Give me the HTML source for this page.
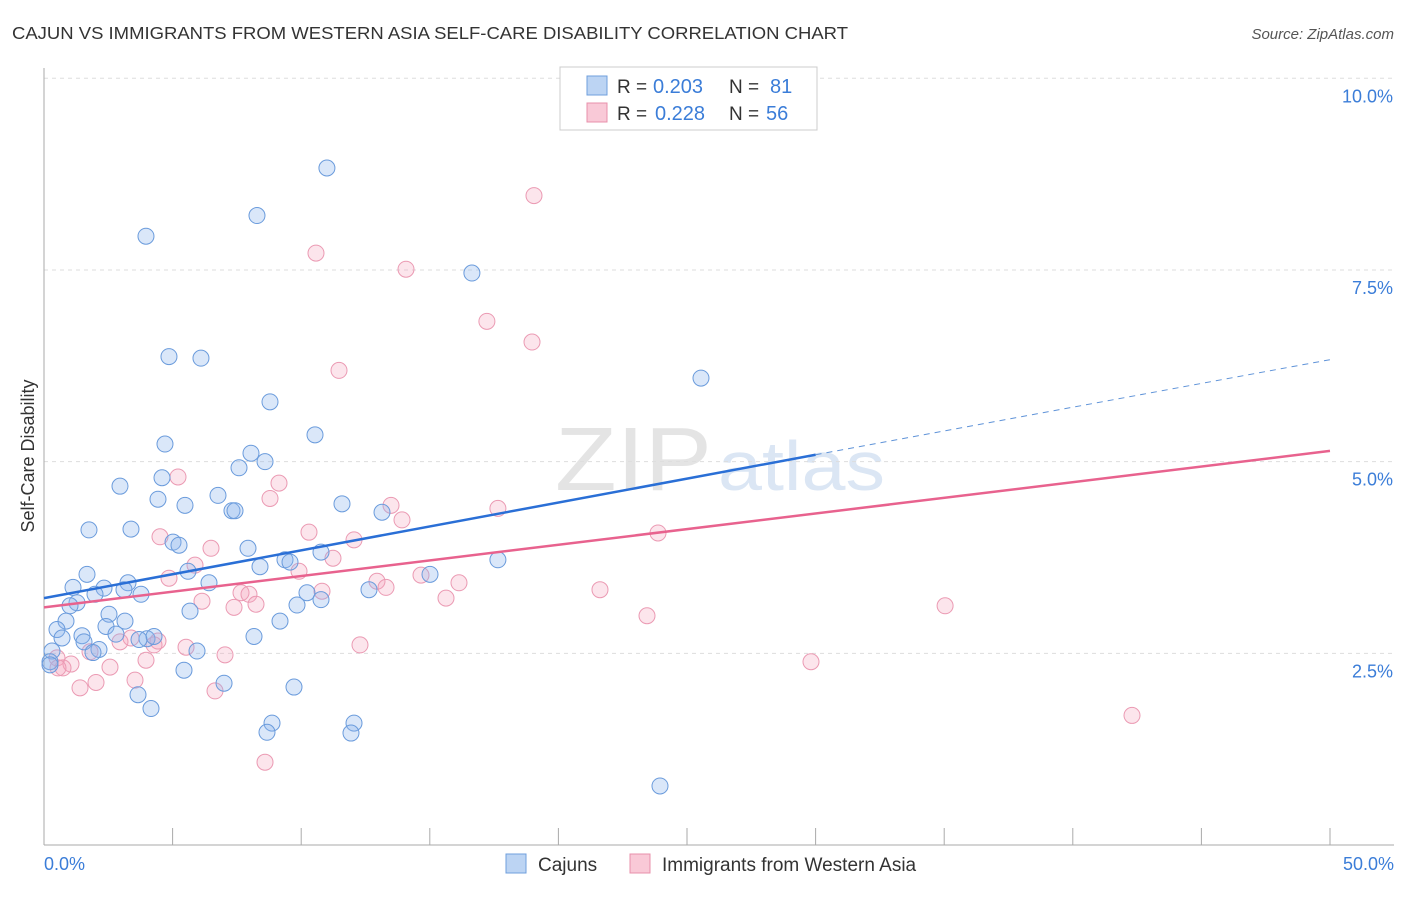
<!DOCTYPE html>
<html><head><meta charset="utf-8"><style>
body{margin:0;background:#fff;font-family:"Liberation Sans",sans-serif;}
svg text{font-family:"Liberation Sans",sans-serif;}
</style></head><body>
<svg id="chart" width="1406" height="892" xmlns="http://www.w3.org/2000/svg">
<text x="12" y="39" font-size="17.5" fill="#333" textLength="836" lengthAdjust="spacingAndGlyphs">CAJUN VS IMMIGRANTS FROM WESTERN ASIA SELF-CARE DISABILITY CORRELATION CHART</text>
<text x="1394" y="39" font-size="15" fill="#555" font-style="italic" text-anchor="end">Source: ZipAtlas.com</text>
<text x="712" y="490" font-size="90" fill="#e4e4e4" text-anchor="end" font-family="Liberation Serif" textLength="157" lengthAdjust="spacingAndGlyphs">ZIP</text>
<text x="718" y="490" font-size="70" fill="#dbe6f4" textLength="167" lengthAdjust="spacingAndGlyphs">atlas</text>
<g id="grid"></g>
<line x1="44" y1="68" x2="44" y2="845" stroke="#aaa"/>
<line x1="44" y1="845" x2="1394" y2="845" stroke="#aaa"/>
<text x="34" y="456" font-size="18" fill="#333" transform="rotate(-90 34 456)" text-anchor="middle">Self-Care Disability</text>
<text x="44" y="870" font-size="18" fill="#3b7dd8">0.0%</text>
<text x="1394" y="870" font-size="18" fill="#3b7dd8" text-anchor="end">50.0%</text>
<g id="pts"></g>
<g id="lines"></g>
<g>
<rect x="560" y="67" width="257" height="63" fill="#fff" stroke="#ccc"/>
<rect x="587" y="76" width="20" height="19" fill="#bcd4f3" stroke="#6f9fdd"/>
<rect x="587" y="103" width="20" height="19" fill="#f9c9d7" stroke="#e890ab"/>
<text x="617" y="93" font-size="19" fill="#333">R =</text>
<text x="653" y="93" font-size="20" fill="#3b7dd8">0.203</text>
<text x="729" y="93" font-size="19" fill="#333">N =</text>
<text x="770" y="93" font-size="20" fill="#3b7dd8">81</text>
<text x="617" y="120" font-size="19" fill="#333">R =</text>
<text x="655" y="120" font-size="20" fill="#3b7dd8">0.228</text>
<text x="729" y="120" font-size="19" fill="#333">N =</text>
<text x="766" y="120" font-size="20" fill="#3b7dd8">56</text>
</g>
<g>
<rect x="506" y="854" width="20" height="19" fill="#bcd4f3" stroke="#6f9fdd"/>
<text x="538" y="871" font-size="19" fill="#333">Cajuns</text>
<rect x="630" y="854" width="20" height="19" fill="#f9c9d7" stroke="#e890ab"/>
<text x="662" y="871" font-size="19" fill="#333">Immigrants from Western Asia</text>
</g>
</svg>
<script>
const yTicks=[2.5,5.0,7.5,10.0];
const xTicks=[0,5,10,15,20,25,30,35,40,45,50];
const cajunX=[11.0,3.965,8.281,16.637,4.859,6.103,25.544,8.787,10.537,4.704,8.048,8.593,7.582,4.588,2.955,4.432,5.482,6.765,7.309,7.426,11.586,13.142,1.749,3.382,5.016,5.249,7.932,10.770,9.370,9.565,17.648,8.398,1.672,5.599,15.008,1.128,2.333,3.266,6.415,1.983,3.110,3.771,12.636,10.225,9.837,10.770,1.283,1.011,5.677,2.527,0.855,3.149,0.505,2.410,1.477,2.799,9.176,0.700,1.555,4.005,4.277,3.694,8.165,2.138,1.905,5.949,0.311,0.233,0.233,5.443,7.000,9.720,3.655,4.160,8.865,8.670,12.053,11.936,23.950];
const cajunY=[8.83,7.94,8.21,7.46,6.37,6.35,6.09,5.78,5.35,5.23,5.11,5.00,4.92,4.79,4.68,4.51,4.43,4.56,4.36,4.36,4.45,4.34,4.11,4.12,3.95,3.91,3.87,3.82,3.72,3.69,3.72,3.63,3.53,3.57,3.53,3.36,3.35,3.42,3.42,3.27,3.33,3.27,3.33,3.29,3.13,3.20,3.16,3.12,3.05,3.01,2.92,2.92,2.81,2.85,2.73,2.75,2.92,2.70,2.65,2.69,2.72,2.68,2.72,2.55,2.51,2.53,2.53,2.39,2.35,2.28,2.11,2.06,1.96,1.78,1.59,1.47,1.59,1.46,0.77];
const immX=[19.051,10.575,14.075,17.220,18.974,11.470,5.210,8.787,9.137,13.492,17.648,13.919,10.303,4.510,12.053,6.493,23.873,11.236,5.871,9.915,4.860,14.658,16.135,12.947,13.298,21.617,7.660,7.970,6.143,10.809,15.630,7.388,8.243,35.035,23.445,3.383,4.432,4.277,5.522,12.286,2.955,7.038,1.789,3.966,29.821,0.505,1.050,0.739,2.566,3.538,2.022,1.400,6.649,42.302,8.593,0.544];
const immY=[8.47,7.72,7.51,6.83,6.56,6.19,4.80,4.52,4.72,4.43,4.39,4.24,4.08,4.02,3.98,3.87,4.07,3.74,3.65,3.57,3.48,3.52,3.42,3.44,3.36,3.33,3.29,3.27,3.18,3.31,3.22,3.10,3.14,3.12,2.99,2.70,2.66,2.61,2.58,2.61,2.65,2.48,2.52,2.41,2.39,2.44,2.36,2.31,2.32,2.15,2.12,2.05,2.01,1.69,1.08,2.31];
const cajunLine=[3.22,5.09,6.33];
const immLine=[3.10,5.14];
const ns="http://www.w3.org/2000/svg";
const X=v=>44+v/50*1286, Y=v=>845-v/10*766.7;
const grid=document.getElementById('grid'),svg=document.getElementById('chart');
yTicks.forEach(t=>{
 const l=document.createElementNS(ns,'line');
 
 
 l.setAttribute('x1',44);l.setAttribute('x2',1394);l.setAttribute('y1',Y(t));l.setAttribute('y2',Y(t));
 l.setAttribute('stroke','#ddd');l.setAttribute('stroke-dasharray','4 4');grid.appendChild(l);
 const tx=document.createElementNS(ns,'text');
 
 
 tx.setAttribute('x',1393);tx.setAttribute('y',Y(t)+24);tx.setAttribute('text-anchor','end');
 tx.setAttribute('font-size','18');tx.setAttribute('fill','#3b7dd8');tx.textContent=t.toFixed(1)+'%';grid.appendChild(tx);
});
xTicks.forEach(t=>{
 const l=document.createElementNS(ns,'line');
 
 
 l.setAttribute('x1',X(t));l.setAttribute('x2',X(t));l.setAttribute('y1',828);l.setAttribute('y2',845);
 l.setAttribute('stroke','#aaa');grid.appendChild(l);
});
const pts=document.getElementById('pts');
function dots(xs,ys,fill,stroke,name){
 xs.forEach((x,i)=>{
  const c=document.createElementNS(ns,'circle');
  
  
  c.setAttribute('cx',X(x));c.setAttribute('cy',Y(ys[i]));c.setAttribute('r',8);
  c.setAttribute('fill',fill);c.setAttribute('stroke',stroke);c.setAttribute('stroke-width','1');
  pts.appendChild(c);
 });
}
dots(immX,immY,'rgba(245,160,185,0.28)','#eb9ab3','immigrant-point');
dots(cajunX,cajunY,'rgba(140,180,235,0.32)','#6a9bdc','cajun-point');
const lines=document.getElementById('lines');
function ln(x1,y1,x2,y2,col,w,dash,name){
 const l=document.createElementNS(ns,'line');
 
 
 l.setAttribute('x1',X(x1));l.setAttribute('y1',Y(y1));l.setAttribute('x2',X(x2));l.setAttribute('y2',Y(y2));
 l.setAttribute('stroke',col);l.setAttribute('stroke-width',w);if(dash)l.setAttribute('stroke-dasharray',dash);
 lines.appendChild(l);
}
ln(0,cajunLine[0],30,cajunLine[1],'#2a6fd6',2.5,null,'cajun-trend-line');
ln(30,cajunLine[1],50,cajunLine[2],'#5f93d8',1,'6 5','cajun-trend-extension');
ln(0,immLine[0],50,immLine[1],'#e8628e',2.5,null,'immigrant-trend-line');
</script>
</body></html>
